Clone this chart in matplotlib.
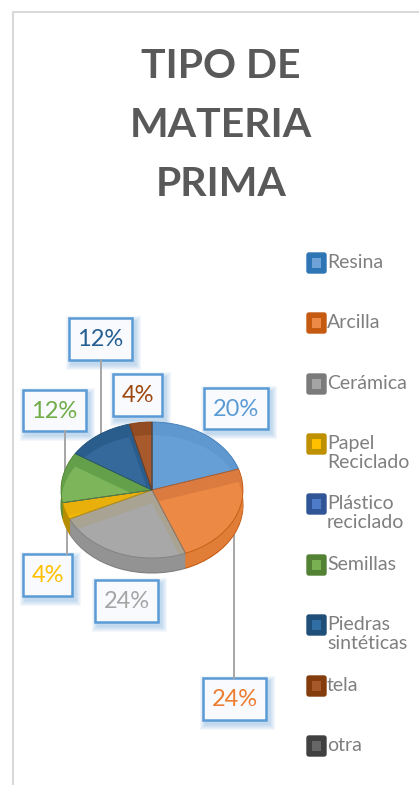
import matplotlib
matplotlib.use("Agg")
import matplotlib.pyplot as plt
from matplotlib.patches import Rectangle, FancyBboxPatch

# data
categories = ["Resina", "Arcilla", "Cerámica", "Papel\nReciclado", "Plástico\nreciclado",
              "Semillas", "Piedras\nsintéticas", "tela", "otra"]
values = [20, 24, 24, 4, 0, 12, 12, 4, 0]

# colours
face_colors = ["#669ed6", "#ec8a45", "#a8a8a8", "#f2b806", "#4472c4", "#7cb55a", "#35699b", "#a85a2c", "#636363"]
band_colors = ["#5f97cf", "#dc7b40", "#a9a394", "#e9b00c", "#4472c4", "#64a049", "#2a5d8c", "#934c22", "#636363"]
wall_colors = ["#4f84b8", "#e07d36", "#939393", "#b58e00", "#2f5597", "#5b8f3c", "#1f4e79", "#843c0c", "#404040"]
rim_colors = ["#3f7cb8", "#c55a11", "#7f7f7f", "#bf9000", "#2f5597", "#548235", "#1f4e79", "#843c0c", "#404040"]
legend_dark = ["#2e75b6", "#c55a11", "#7b7b7b", "#bf9000", "#2f5597", "#548235", "#1f4e79", "#843c0c", "#404040"]
legend_light = ["#6fa3d8", "#ed8a45", "#a5a5a5", "#ffc000", "#4f7cc9", "#78b052", "#2f6da3", "#a5582a", "#666666"]
label_colors = ["#5b9bd5", "#ed7d31", "#a5a5a5", "#ffc000", "#70ad47", "#255e91", "#9e480e"]
label_values = [v for v in values if v > 0]

# layout in pixels
W, H = 419, 785
CX, CY, RX, RY, DEPTH = 152, 490, 91, 68, 15
legend_y = [263, 323, 384, 444, 504, 565, 625, 686, 746]
# x0, y0, x1, y1 of each label box, same order as label_values
boxes = [(204, 388, 268, 429), (203, 678, 266, 720), (95, 580, 158, 622), (23, 554, 72, 596),
         (23, 390, 86, 431), (69, 318, 132, 360), (113, 374, 162, 416)]
leaders = [(234, 530, 678), (67, 520, 554), (65, 431, 475), (101, 360, 440)]

plt.rcParams["font.family"] = ["Lato", "DejaVu Sans"]
fig = plt.figure(figsize=(W / 100, H / 100), dpi=100, facecolor="white")

bg = fig.add_axes([0, 0, 1, 1], zorder=1)
bg.set_xlim(0, W)
bg.set_ylim(H, 0)
bg.axis("off")

# chart frame
bg.plot([13, 13, W], [H, 12, 12], color="#d9d9d9", lw=1.5, solid_joinstyle="miter")

# title
for line, y in zip(["TIPO DE", "MATERIA", "PRIMA"], [78, 137, 196]):
    bg.text(221, y, line, ha="center", va="baseline", fontsize=29.5, fontweight="bold", color="#595959")

# leaders
for x, y0, y1 in leaders:
    bg.plot([x, x], [y0, y1], color="#a6a6a6", lw=1.4)

# data labels with soft shadow
for (x0, y0, x1, y1), v, c in zip(boxes, label_values, label_colors):
    for grow in range(6, 0, -1):
        bg.add_patch(Rectangle((x0 + 3 - grow, y0 + 4 - grow), x1 - x0 + 2 * grow, y1 - y0 + 2 * grow,
                               facecolor="#5b9bd5", edgecolor="none", alpha=0.07))
    bg.add_patch(Rectangle((x0, y0), x1 - x0, y1 - y0, facecolor="#f8fafd", edgecolor="#5b9bd5", lw=1.8))
    bg.text((x0 + x1) / 2, (y0 + y1) / 2 + 0.5, f"{v}%", ha="center", va="center", fontsize=17, color=c)

# legend
for name, y, dark, light in zip(categories, legend_y, legend_dark, legend_light):
    bg.add_patch(FancyBboxPatch((307, y - 10), 19, 20, boxstyle="round,pad=0,rounding_size=2",
                                facecolor=dark, edgecolor=dark, lw=1))
    bg.add_patch(Rectangle((312, y - 5), 9, 10, facecolor=light, edgecolor="none"))
    bg.text(327, y - 9, name, ha="left", va="top", fontsize=14, color="#7f7f7f", linespacing=1.15)

# pie, squashed to an ellipse
pie_ax = fig.add_axes([(CX - RX) / W, 1 - (CY + RY + DEPTH) / H, 2 * RX / W, (2 * RY + DEPTH) / H], zorder=2)
step = 1 / RY
for d in range(DEPTH, 0, -1):
    walls, _ = pie_ax.pie(values, colors=wall_colors, startangle=90, counterclock=False, center=(0, -d * step),
                          wedgeprops=dict(linewidth=0))
    if d == DEPTH:
        for w, c in zip(walls, rim_colors):
            w.set_edgecolor(c)
            w.set_linewidth(0.8)
base, _ = pie_ax.pie(values, colors=band_colors, startangle=90, counterclock=False,
                     wedgeprops=dict(linewidth=0))
inner, _ = pie_ax.pie(values, colors=face_colors, startangle=90, counterclock=False,
                      center=(0, -13 * step), wedgeprops=dict(linewidth=0))
for w, b in zip(inner, base):
    # pie turns clipping off, it has to be switched back on
    w.set_clip_on(True)
    w.set_clip_path(b)
rim, _ = pie_ax.pie(values, startangle=90, counterclock=False, wedgeprops=dict(linewidth=0.6, fill=False))
for w, c in zip(rim, rim_colors):
    w.set_edgecolor(c)
pie_ax.set_aspect("auto")
pie_ax.set_xlim(-1, 1)
pie_ax.set_ylim(-1 - DEPTH * step, 1)
pie_ax.axis("off")

fig.savefig("out.png", dpi=100)
